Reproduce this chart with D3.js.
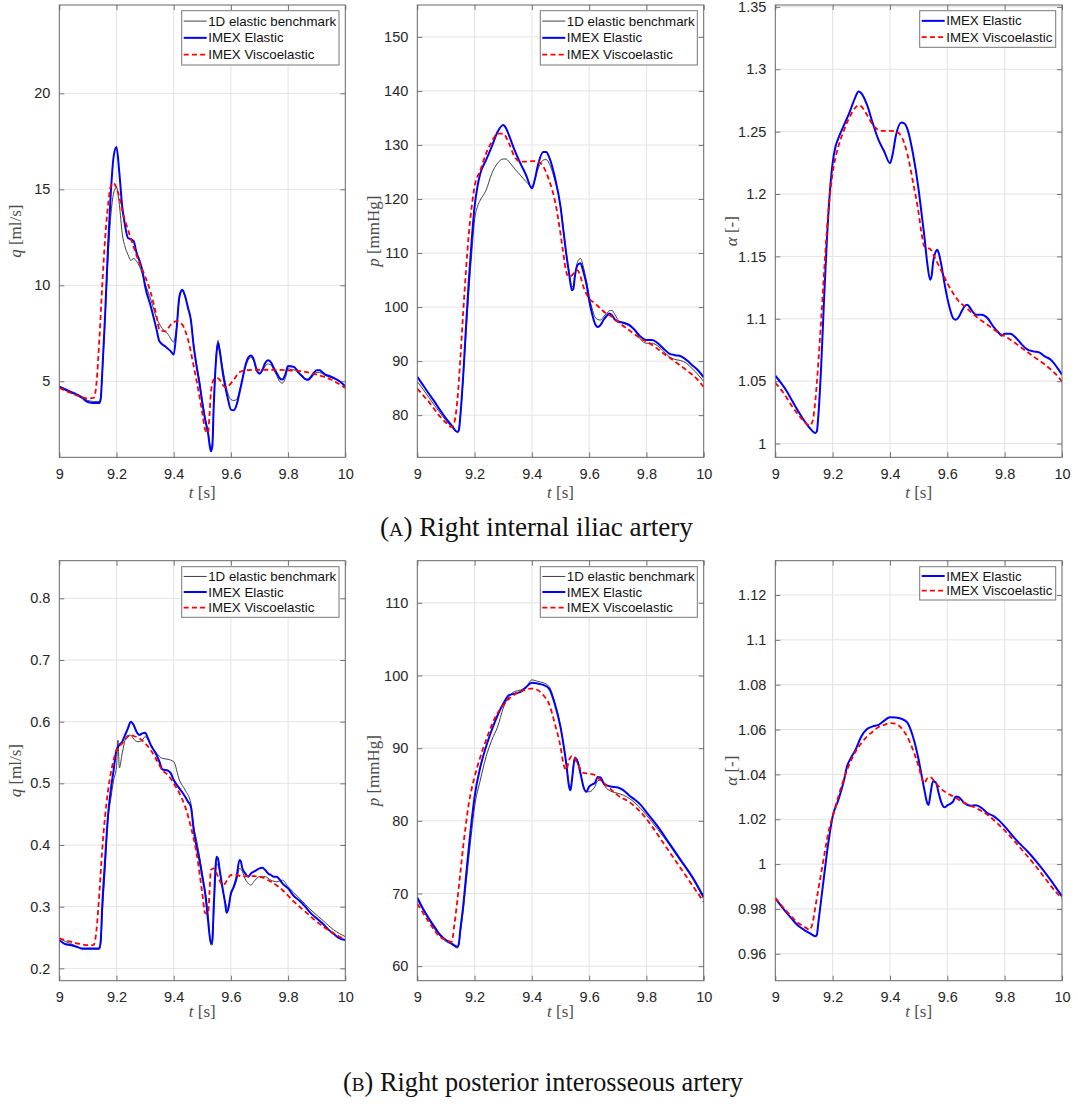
<!DOCTYPE html>
<html><head><meta charset="utf-8">
<script src="https://cdn.jsdelivr.net/npm/d3@7"></script>
<style>
html,body{margin:0;padding:0;background:#fff;}
svg{display:block;}
</style></head>
<body>
<svg id="fig" width="1078" height="1104"></svg>
<script>
// ---------------- DATA ----------------
const xTicks = [9, 9.2, 9.4, 9.6, 9.8, 10];
const xTickLabels = ["9", "9.2", "9.4", "9.6", "9.8", "10"];

const yTicksQA = [5, 10, 15, 20];
const yTicksPA = [80, 90, 100, 110, 120, 130, 140, 150];
const yTicksAA = [1, 1.05, 1.1, 1.15, 1.2, 1.25, 1.3, 1.35];
const yTicksQB = [0.2, 0.3, 0.4, 0.5, 0.6, 0.7, 0.8];
const yTicksPB = [60, 70, 80, 90, 100, 110];
const yTicksAB = [0.96, 0.98, 1, 1.02, 1.04, 1.06, 1.08, 1.1, 1.12];

const seriesNames = ["1D elastic benchmark", "IMEX Elastic", "IMEX Viscoelastic"];

// (A) Right internal iliac artery — flow q [ml/s]
const qA_bench = [[9.00,4.76],[9.02,4.62],[9.04,4.48],[9.06,4.36],[9.08,4.2],[9.10,4.0],[9.12,3.95],[9.14,3.95],[9.145,4.2],[9.15,5.3],[9.16,8.2],[9.17,11.3],[9.18,13.6],[9.19,14.8],[9.20,15.1],[9.21,14.2],[9.22,12.7],[9.23,12.0],[9.24,11.6],[9.25,11.3],[9.26,11.4],[9.27,11.25],[9.28,11.0],[9.29,10.6],[9.30,10.1],[9.32,9.25],[9.34,8.3],[9.36,7.75],[9.38,7.45],[9.40,7.05],[9.41,7.8],[9.42,9.3],[9.43,9.7],[9.44,9.4],[9.45,8.85],[9.46,8.2],[9.47,6.9],[9.48,5.9],[9.49,5.0],[9.50,4.0],[9.51,3.1],[9.52,2.4],[9.53,1.5],[9.535,1.75],[9.54,3.8],[9.55,6.6],[9.555,7.13],[9.56,6.8],[9.57,5.8],[9.58,4.95],[9.59,4.35],[9.60,4.05],[9.61,4.0],[9.62,4.05],[9.63,4.5],[9.64,5.1],[9.65,5.7],[9.66,6.1],[9.67,6.25],[9.68,6.05],[9.69,5.6],[9.70,5.4],[9.71,5.55],[9.72,5.8],[9.73,5.9],[9.74,5.85],[9.75,5.6],[9.76,5.3],[9.77,5.0],[9.78,4.9],[9.79,5.15],[9.80,5.65],[9.81,5.62],[9.82,5.6],[9.83,5.5],[9.84,5.35],[9.85,5.2],[9.86,5.1],[9.87,5.05],[9.88,5.15],[9.89,5.35],[9.90,5.45],[9.91,5.45],[9.92,5.4],[9.93,5.3],[9.94,5.25],[9.96,5.15],[9.98,5.0],[10.0,4.75]];
const qA_elastic = [[9.00,4.70],[9.02,4.57],[9.04,4.43],[9.06,4.31],[9.08,4.13],[9.10,3.92],[9.12,3.87],[9.14,3.87],[9.145,4.1],[9.15,5.4],[9.16,8.4],[9.17,11.9],[9.18,14.8],[9.19,16.7],[9.20,17.2],[9.21,15.85],[9.22,14.1],[9.23,13.1],[9.24,12.47],[9.25,12.4],[9.26,12.3],[9.27,11.7],[9.28,11.3],[9.29,10.8],[9.30,9.95],[9.32,8.9],[9.34,7.7],[9.35,7.08],[9.37,6.82],[9.39,6.56],[9.40,6.39],[9.41,7.7],[9.42,9.43],[9.43,9.77],[9.44,9.43],[9.45,8.82],[9.46,8.2],[9.47,6.8],[9.48,5.78],[9.49,4.91],[9.50,3.87],[9.51,3.0],[9.52,2.3],[9.53,1.35],[9.535,1.6],[9.54,3.7],[9.55,6.5],[9.555,7.0],[9.56,6.65],[9.57,5.6],[9.58,4.74],[9.59,4.05],[9.60,3.52],[9.61,3.49],[9.62,3.78],[9.63,4.4],[9.64,5.09],[9.65,5.78],[9.66,6.22],[9.67,6.34],[9.68,6.13],[9.69,5.6],[9.70,5.4],[9.71,5.6],[9.72,5.95],[9.73,6.09],[9.74,5.99],[9.75,5.69],[9.76,5.43],[9.77,5.17],[9.78,5.09],[9.79,5.35],[9.80,5.8],[9.81,5.78],[9.82,5.75],[9.83,5.6],[9.84,5.4],[9.85,5.26],[9.86,5.12],[9.87,5.09],[9.88,5.23],[9.89,5.43],[9.90,5.57],[9.91,5.57],[9.92,5.47],[9.93,5.35],[9.94,5.3],[9.96,5.17],[9.98,5.0],[10.0,4.74]];
const qA_visco = [[9.00,4.65],[9.04,4.39],[9.08,4.17],[9.10,4.1],[9.12,4.13],[9.13,4.9],[9.14,7.17],[9.15,9.95],[9.16,12.4],[9.17,14.1],[9.18,15.15],[9.19,15.33],[9.20,15.07],[9.21,14.6],[9.22,13.9],[9.24,12.9],[9.26,12.0],[9.28,11.16],[9.30,10.47],[9.32,9.6],[9.34,8.39],[9.35,7.7],[9.37,7.6],[9.39,7.95],[9.41,8.13],[9.43,7.95],[9.45,7.17],[9.47,5.78],[9.49,4.22],[9.50,3.35],[9.51,2.48],[9.52,2.3],[9.525,3.2],[9.53,4.4],[9.54,5.09],[9.55,5.17],[9.56,5.1],[9.57,4.83],[9.58,4.7],[9.59,4.74],[9.61,5.09],[9.63,5.47],[9.65,5.57],[9.70,5.6],[9.75,5.6],[9.80,5.57],[9.85,5.52],[9.90,5.35],[9.95,5.09],[10.0,4.65]];

// (A) pressure p [mmHg]
const pA_bench = [[9.00,86.2],[9.02,84.8],[9.04,83.3],[9.06,81.8],[9.08,80.4],[9.10,79.0],[9.12,77.8],[9.14,76.9],[9.145,77.3],[9.15,79.6],[9.16,86.5],[9.17,95.0],[9.18,103.0],[9.19,109.9],[9.20,116.1],[9.21,118.6],[9.22,119.8],[9.24,121.6],[9.26,124.7],[9.28,126.6],[9.30,127.4],[9.31,127.4],[9.32,126.9],[9.34,125.6],[9.36,124.4],[9.38,123.2],[9.40,122.3],[9.41,123.5],[9.42,125.3],[9.44,127.2],[9.45,127.3],[9.46,126.6],[9.48,123.5],[9.50,118.6],[9.51,114.5],[9.52,110.0],[9.53,106.5],[9.54,103.75],[9.545,104.0],[9.55,105.8],[9.56,108.4],[9.57,109.0],[9.58,107.4],[9.59,105.0],[9.60,102.0],[9.61,99.8],[9.62,98.2],[9.63,97.7],[9.64,97.6],[9.65,98.2],[9.66,98.8],[9.67,99.3],[9.68,99.4],[9.69,98.6],[9.70,97.7],[9.72,97.0],[9.74,96.5],[9.76,95.6],[9.78,94.0],[9.80,93.3],[9.82,93.3],[9.84,92.8],[9.86,91.8],[9.88,90.8],[9.90,90.3],[9.92,90.1],[9.94,89.6],[9.96,88.6],[9.98,87.5],[10.0,86.2]];
const pA_elastic = [[9.00,87.1],[9.02,85.55],[9.04,84.0],[9.06,82.5],[9.08,80.9],[9.10,79.4],[9.12,78.1],[9.14,76.9],[9.145,77.2],[9.15,79.7],[9.16,87.1],[9.17,96.3],[9.18,105.0],[9.19,112.4],[9.20,118.6],[9.21,122.3],[9.22,124.7],[9.24,127.2],[9.26,129.7],[9.28,132.4],[9.30,133.7],[9.31,133.1],[9.32,131.8],[9.34,129.0],[9.36,126.6],[9.38,124.4],[9.40,121.95],[9.41,123.5],[9.42,126.0],[9.44,128.7],[9.45,128.7],[9.46,127.8],[9.48,124.1],[9.50,118.6],[9.51,114.2],[9.52,109.9],[9.53,106.2],[9.54,103.1],[9.545,103.4],[9.55,105.6],[9.56,107.8],[9.57,108.1],[9.58,106.5],[9.59,104.4],[9.60,101.3],[9.61,98.8],[9.62,97.0],[9.63,96.3],[9.64,96.7],[9.65,97.6],[9.66,98.3],[9.67,98.8],[9.68,98.5],[9.69,97.7],[9.70,97.3],[9.72,97.1],[9.74,96.7],[9.76,95.7],[9.78,94.5],[9.80,93.9],[9.82,93.9],[9.84,93.3],[9.86,92.3],[9.88,91.4],[9.90,91.1],[9.92,90.9],[9.94,90.2],[9.96,89.25],[9.98,88.3],[10.0,87.0]];
const pA_visco = [[9.00,84.9],[9.02,83.7],[9.04,82.5],[9.06,81.05],[9.08,79.7],[9.10,78.6],[9.12,77.8],[9.13,78.8],[9.14,82.8],[9.15,90.2],[9.16,98.8],[9.17,106.8],[9.18,113.6],[9.19,118.6],[9.20,122.3],[9.22,125.3],[9.24,128.4],[9.26,130.6],[9.28,132.1],[9.30,132.1],[9.32,130.3],[9.34,127.8],[9.36,126.9],[9.38,126.9],[9.40,127.0],[9.42,127.0],[9.44,126.0],[9.46,123.5],[9.48,119.8],[9.50,113.6],[9.51,109.9],[9.52,106.5],[9.53,105.6],[9.54,105.9],[9.55,106.5],[9.56,106.8],[9.57,105.6],[9.58,103.75],[9.60,101.6],[9.62,100.7],[9.64,99.7],[9.66,98.8],[9.68,98.2],[9.70,97.3],[9.74,95.7],[9.78,94.2],[9.82,93.0],[9.86,91.4],[9.90,89.9],[9.94,88.3],[9.98,86.5],[10.0,85.2]];

// (A) alpha [-]
const aA_elastic = [[9.00,1.0544],[9.02,1.0486],[9.04,1.0419],[9.06,1.0339],[9.08,1.0259],[9.10,1.0187],[9.12,1.0125],[9.14,1.0085],[9.145,1.0099],[9.15,1.0219],[9.16,1.0619],[9.17,1.1153],[9.18,1.1633],[9.19,1.2007],[9.20,1.2247],[9.21,1.2381],[9.22,1.2447],[9.24,1.2554],[9.26,1.2661],[9.28,1.2781],[9.29,1.2821],[9.30,1.2808],[9.32,1.2714],[9.34,1.2567],[9.36,1.2434],[9.38,1.2341],[9.40,1.2247],[9.41,1.2327],[9.42,1.2461],[9.44,1.2573],[9.45,1.2567],[9.46,1.2527],[9.48,1.2327],[9.50,1.2034],[9.51,1.1847],[9.52,1.166],[9.53,1.1446],[9.54,1.1313],[9.545,1.134],[9.55,1.1446],[9.56,1.154],[9.565,1.1553],[9.57,1.1527],[9.58,1.142],[9.59,1.1286],[9.60,1.1166],[9.61,1.1073],[9.62,1.1006],[9.63,1.0993],[9.64,1.1014],[9.65,1.106],[9.66,1.11],[9.67,1.1113],[9.68,1.1086],[9.69,1.1052],[9.70,1.1033],[9.72,1.1033],[9.74,1.1006],[9.76,1.0939],[9.78,1.0886],[9.79,1.0865],[9.80,1.0881],[9.82,1.0881],[9.84,1.0846],[9.86,1.0793],[9.88,1.0753],[9.90,1.0739],[9.92,1.0731],[9.94,1.0699],[9.96,1.0673],[9.98,1.0619],[10.0,1.0552]];
const aA_visco = [[9.00,1.0486],[9.02,1.0432],[9.04,1.0366],[9.06,1.0294],[9.08,1.0232],[9.10,1.0179],[9.12,1.0144],[9.13,1.0179],[9.14,1.0352],[9.15,1.0646],[9.16,1.0993],[9.17,1.1366],[9.18,1.1713],[9.19,1.198],[9.20,1.2167],[9.22,1.2381],[9.24,1.2514],[9.26,1.2621],[9.28,1.2695],[9.29,1.2711],[9.30,1.2701],[9.32,1.2634],[9.34,1.2554],[9.36,1.2514],[9.38,1.2506],[9.40,1.2506],[9.42,1.2501],[9.44,1.2461],[9.46,1.2327],[9.48,1.21],[9.50,1.1847],[9.51,1.1687],[9.52,1.158],[9.53,1.1567],[9.54,1.1559],[9.56,1.1473],[9.58,1.138],[9.60,1.1286],[9.62,1.1206],[9.64,1.114],[9.66,1.11],[9.68,1.106],[9.70,1.1019],[9.74,1.0953],[9.78,1.0886],[9.82,1.0833],[9.86,1.0766],[9.90,1.0699],[9.94,1.0633],[9.98,1.0552],[10.0,1.0499]];

// (B) Right posterior interosseous artery — flow q [ml/s]
const qB_bench = [[9.00,0.2486],[9.02,0.244],[9.04,0.240],[9.06,0.236],[9.08,0.231],[9.10,0.231],[9.12,0.231],[9.14,0.231],[9.145,0.24],[9.15,0.285],[9.16,0.36],[9.17,0.44],[9.18,0.475],[9.19,0.505],[9.20,0.527],[9.205,0.57],[9.21,0.525],[9.22,0.549],[9.23,0.57],[9.24,0.578],[9.25,0.578],[9.26,0.572],[9.27,0.568],[9.28,0.5676],[9.29,0.57],[9.30,0.5757],[9.32,0.562],[9.34,0.549],[9.36,0.5405],[9.38,0.539],[9.40,0.5351],[9.42,0.5054],[9.44,0.489],[9.46,0.4676],[9.47,0.43],[9.48,0.408],[9.50,0.354],[9.52,0.289],[9.53,0.238],[9.535,0.238],[9.54,0.289],[9.55,0.37],[9.56,0.359],[9.57,0.33],[9.58,0.308],[9.59,0.297],[9.60,0.319],[9.61,0.33],[9.62,0.343],[9.63,0.362],[9.64,0.357],[9.65,0.345],[9.66,0.338],[9.67,0.335],[9.68,0.3405],[9.70,0.3486],[9.72,0.3486],[9.74,0.343],[9.76,0.3405],[9.78,0.343],[9.80,0.3324],[9.84,0.3135],[9.88,0.2946],[9.92,0.2784],[9.96,0.2622],[10.0,0.2514]];
const qB_elastic = [[9.00,0.246],[9.02,0.2395],[9.04,0.2378],[9.06,0.235],[9.08,0.2324],[9.10,0.2324],[9.12,0.2324],[9.14,0.2324],[9.145,0.246],[9.15,0.3],[9.16,0.3757],[9.17,0.446],[9.18,0.4892],[9.19,0.5216],[9.20,0.554],[9.21,0.5622],[9.22,0.5676],[9.23,0.5784],[9.24,0.5892],[9.25,0.6],[9.26,0.5946],[9.27,0.5838],[9.28,0.5784],[9.29,0.5811],[9.30,0.5822],[9.31,0.573],[9.32,0.5622],[9.34,0.5459],[9.35,0.5351],[9.36,0.5227],[9.38,0.5205],[9.39,0.5162],[9.40,0.5054],[9.42,0.4919],[9.44,0.4784],[9.45,0.4703],[9.46,0.4622],[9.47,0.4243],[9.48,0.3973],[9.49,0.3757],[9.50,0.3486],[9.51,0.3216],[9.52,0.2784],[9.53,0.2405],[9.535,0.246],[9.54,0.3],[9.55,0.3811],[9.555,0.378],[9.56,0.3622],[9.57,0.3324],[9.58,0.3054],[9.585,0.29],[9.59,0.2946],[9.60,0.3216],[9.61,0.3324],[9.62,0.3486],[9.63,0.3757],[9.635,0.373],[9.64,0.3622],[9.65,0.354],[9.66,0.3486],[9.67,0.354],[9.68,0.3568],[9.69,0.3595],[9.70,0.3622],[9.71,0.3632],[9.72,0.3595],[9.73,0.354],[9.74,0.3514],[9.75,0.3486],[9.76,0.3486],[9.77,0.3443],[9.78,0.3378],[9.79,0.3335],[9.80,0.3297],[9.82,0.3173],[9.84,0.3097],[9.86,0.3],[9.88,0.2892],[9.90,0.2811],[9.92,0.273],[9.94,0.2632],[9.96,0.2557],[9.98,0.2486],[10.0,0.246]];
const qB_visco = [[9.00,0.2486],[9.04,0.2432],[9.08,0.2389],[9.10,0.2378],[9.12,0.2378],[9.13,0.2622],[9.14,0.3216],[9.15,0.3919],[9.16,0.446],[9.17,0.4865],[9.18,0.5162],[9.19,0.5378],[9.20,0.554],[9.22,0.5649],[9.24,0.5757],[9.25,0.5784],[9.26,0.5768],[9.28,0.573],[9.30,0.5649],[9.32,0.554],[9.34,0.5378],[9.36,0.5216],[9.38,0.5135],[9.40,0.5],[9.42,0.4838],[9.44,0.4622],[9.46,0.4297],[9.48,0.3865],[9.50,0.3216],[9.51,0.2892],[9.52,0.2892],[9.525,0.3216],[9.53,0.3595],[9.54,0.3622],[9.55,0.354],[9.56,0.3432],[9.57,0.3351],[9.58,0.3378],[9.59,0.3459],[9.60,0.3514],[9.62,0.3514],[9.64,0.3486],[9.66,0.35],[9.70,0.3486],[9.74,0.3405],[9.78,0.327],[9.82,0.3081],[9.86,0.2919],[9.90,0.2757],[9.94,0.2622],[9.98,0.2514],[10.0,0.246]];

// (B) pressure p [mmHg]
const pB_bench = [[9.00,69.2],[9.04,66.4],[9.08,64.1],[9.10,63.4],[9.12,63.0],[9.14,62.5],[9.145,62.9],[9.15,64.5],[9.16,67.5],[9.17,71.3],[9.18,75.0],[9.19,78.6],[9.20,81.9],[9.22,85.6],[9.24,88.8],[9.26,91.1],[9.28,92.9],[9.30,95.5],[9.32,97.1],[9.34,97.8],[9.36,98.0],[9.38,98.4],[9.40,99.4],[9.42,99.2],[9.44,99.0],[9.46,98.5],[9.48,96.3],[9.50,93.0],[9.51,90.7],[9.52,88.0],[9.53,84.8],[9.535,84.3],[9.54,85.7],[9.55,88.8],[9.56,88.3],[9.57,86.6],[9.58,84.8],[9.59,84.0],[9.60,84.0],[9.62,84.7],[9.63,85.5],[9.64,85.6],[9.66,84.5],[9.68,84.0],[9.70,83.8],[9.74,83.1],[9.78,81.7],[9.80,80.8],[9.84,78.8],[9.88,76.7],[9.92,74.4],[9.96,72.1],[10.0,69.3]];
const pB_elastic = [[9.00,69.45],[9.02,67.9],[9.04,66.6],[9.06,65.4],[9.08,64.3],[9.10,63.6],[9.12,63.1],[9.14,62.66],[9.145,63.1],[9.15,64.95],[9.16,68.2],[9.17,72.3],[9.18,76.4],[9.19,80.1],[9.20,83.3],[9.22,87.4],[9.24,90.2],[9.26,92.5],[9.28,94.5],[9.30,96.1],[9.32,97.3],[9.34,97.5],[9.36,97.75],[9.38,98.4],[9.40,99.0],[9.42,98.9],[9.44,98.7],[9.46,98.2],[9.48,96.1],[9.50,92.9],[9.51,90.6],[9.52,87.9],[9.53,84.7],[9.535,84.2],[9.54,85.6],[9.55,88.6],[9.56,88.1],[9.57,86.5],[9.58,84.7],[9.59,84.0],[9.60,84.7],[9.61,85.0],[9.62,85.2],[9.63,86.05],[9.64,85.96],[9.65,85.2],[9.66,84.9],[9.68,84.7],[9.70,84.6],[9.72,84.2],[9.74,83.5],[9.76,82.9],[9.78,82.2],[9.80,81.2],[9.84,79.2],[9.88,76.9],[9.92,74.6],[9.96,72.3],[10.0,69.5]];
const pB_visco = [[9.00,68.6],[9.04,66.1],[9.08,64.0],[9.10,63.6],[9.12,63.35],[9.13,65.9],[9.14,69.1],[9.15,72.75],[9.16,76.4],[9.17,79.6],[9.18,82.4],[9.19,84.45],[9.20,86.05],[9.22,88.8],[9.24,91.1],[9.26,93.2],[9.28,94.8],[9.30,95.9],[9.32,96.8],[9.34,97.4],[9.36,97.75],[9.38,98.1],[9.40,98.2],[9.42,98.0],[9.44,97.3],[9.46,96.1],[9.48,93.4],[9.50,90.2],[9.51,87.9],[9.52,87.0],[9.53,88.35],[9.54,88.9],[9.55,88.6],[9.56,87.8],[9.57,87.1],[9.58,86.6],[9.60,86.5],[9.62,86.3],[9.64,85.6],[9.66,84.9],[9.68,84.2],[9.70,83.5],[9.74,82.6],[9.78,81.2],[9.82,79.2],[9.86,76.9],[9.90,74.6],[9.94,72.3],[9.98,70.0],[10.0,68.85]];

// (B) alpha [-]
const aB_elastic = [[9.00,0.9848],[9.02,0.9814],[9.04,0.9782],[9.06,0.9752],[9.08,0.9725],[9.10,0.9707],[9.12,0.9692],[9.14,0.9678],[9.145,0.9685],[9.15,0.9737],[9.16,0.9841],[9.17,0.9945],[9.18,1.0049],[9.19,1.0138],[9.20,1.0212],[9.22,1.0287],[9.24,1.0376],[9.25,1.0435],[9.26,1.0465],[9.28,1.051],[9.30,1.0569],[9.32,1.0602],[9.34,1.0614],[9.36,1.0621],[9.38,1.064],[9.40,1.0655],[9.42,1.0654],[9.44,1.0648],[9.46,1.0632],[9.48,1.0569],[9.50,1.0465],[9.51,1.0398],[9.52,1.0331],[9.53,1.0272],[9.535,1.0264],[9.54,1.0302],[9.55,1.0369],[9.56,1.0364],[9.57,1.0316],[9.58,1.0272],[9.59,1.0253],[9.60,1.0262],[9.62,1.0279],[9.63,1.0302],[9.64,1.0299],[9.66,1.0272],[9.68,1.026],[9.70,1.0262],[9.72,1.025],[9.74,1.0227],[9.76,1.0215],[9.78,1.0195],[9.80,1.0168],[9.84,1.0108],[9.88,1.0056],[9.92,0.9997],[9.96,0.993],[10.0,0.9856]];
const aB_visco = [[9.00,0.9848],[9.04,0.9789],[9.08,0.9737],[9.10,0.9722],[9.12,0.9707],[9.13,0.9737],[9.14,0.9811],[9.15,0.9886],[9.16,0.996],[9.17,1.0034],[9.18,1.0108],[9.19,1.0168],[9.20,1.0212],[9.22,1.0302],[9.24,1.0383],[9.26,1.045],[9.28,1.0502],[9.30,1.0539],[9.32,1.0569],[9.34,1.0591],[9.36,1.0611],[9.38,1.0621],[9.40,1.0629],[9.42,1.0626],[9.44,1.0606],[9.46,1.0569],[9.48,1.051],[9.50,1.0435],[9.51,1.0388],[9.52,1.0361],[9.53,1.0383],[9.54,1.0388],[9.56,1.0361],[9.58,1.0334],[9.60,1.0316],[9.62,1.0302],[9.64,1.0287],[9.66,1.0272],[9.70,1.025],[9.74,1.022],[9.78,1.0175],[9.82,1.0123],[9.86,1.0064],[9.90,1.0004],[9.94,0.9938],[9.98,0.9874],[10.0,0.9848]];

// ---------------- LAYOUT ----------------
const svg = d3.select("#fig");
const cols = [[59.3, 345.3], [417.3, 703.7], [775.3, 1062]];
const rows = [[5, 457.3], [560.7, 980.7]];
const styles = {
  bench:   {stroke: "#2b2b2b", width: 0.9, dash: null},
  elastic: {stroke: "#0000ff", width: 2, dash: null},
  visco:   {stroke: "#ff0000", width: 1.8, dash: "5,3.2"}
};
const fmt = v => String(+v.toFixed(4));

const panels = [
  {c:0, r:0, dom:[1.04, 24.6], ticks:yTicksQA, ylab:"q", yunit:"[ml/s]", series:[["bench",qA_bench],["elastic",qA_elastic],["visco",qA_visco]], leg:[181.7,10.7,339,65]},
  {c:1, r:0, dom:[72.2, 155.9], ticks:yTicksPA, ylab:"p", yunit:"[mmHg]", series:[["bench",pA_bench],["elastic",pA_elastic],["visco",pA_visco]], leg:[540.3,10.7,697.3,65]},
  {c:2, r:0, dom:[0.989, 1.3515], ticks:yTicksAA, ylab:"α", yunit:"[-]", series:[["elastic",aA_elastic],["visco",aA_visco]], leg:[919.7,10.7,1055.7,47.3]},
  {c:0, r:1, dom:[0.18, 0.861], ticks:yTicksQB, ylab:"q", yunit:"[ml/s]", series:[["bench",qB_bench],["elastic",qB_elastic],["visco",qB_visco]], leg:[181.7,566.7,339,617.3]},
  {c:1, r:1, dom:[58, 115.8], ticks:yTicksPB, ylab:"p", yunit:"[mmHg]", series:[["bench",pB_bench],["elastic",pB_elastic],["visco",pB_visco]], leg:[540.3,566.7,697.3,617.3]},
  {c:2, r:1, dom:[0.948, 1.1353], ticks:yTicksAB, ylab:"α", yunit:"[-]", series:[["elastic",aB_elastic],["visco",aB_visco]], leg:[919.7,566.7,1055.7,600]}
];
const nameOf = {bench: seriesNames[0], elastic: seriesNames[1], visco: seriesNames[2]};

panels.forEach((P, i) => {
  const [x0, x1] = cols[P.c];
  const [y0, y1] = rows[P.r];
  const x = d3.scaleLinear().domain([9, 10]).range([x0, x1]);
  const y = d3.scaleLinear().domain(P.dom).range([y1, y0]);
  const g = svg.append("g");

  // grid
  g.append("g").selectAll("line").data(xTicks.slice(1, -1)).join("line")
    .attr("x1", d => x(d)).attr("x2", d => x(d)).attr("y1", y0).attr("y2", y1)
    .attr("stroke", "#e3e3e3").attr("stroke-width", 1);
  g.append("g").selectAll("line").data(P.ticks).join("line")
    .attr("x1", x0).attr("x2", x1).attr("y1", d => y(d)).attr("y2", d => y(d))
    .attr("stroke", "#e3e3e3").attr("stroke-width", 1);

  // axes via d3 axis (labels), inward ticks
  const ax = g.append("g").attr("transform", `translate(0,${y1})`)
    .call(d3.axisBottom(x).tickValues(xTicks).tickFormat((d, k) => xTickLabels[k]).tickSize(-5).tickPadding(11));
  const ay = g.append("g").attr("transform", `translate(${x0},0)`)
    .call(d3.axisLeft(y).tickValues(P.ticks).tickFormat(fmt).tickSize(-5).tickPadding(9));
  const axT = g.append("g").attr("transform", `translate(0,${y0})`)
    .call(d3.axisTop(x).tickValues(xTicks).tickFormat("").tickSize(-5));
  const ayR = g.append("g").attr("transform", `translate(${x1},0)`)
    .call(d3.axisRight(y).tickValues(P.ticks).tickFormat("").tickSize(-5));
  [ax, ay, axT, ayR].forEach(a => {
    a.select(".domain").remove();
    a.selectAll(".tick line").attr("stroke", "#555").attr("stroke-width", 0.8);
    a.selectAll(".tick text").attr("fill", "#262626")
      .style("font-family", "'Liberation Sans', Arial, Helvetica, sans-serif").style("font-size", "14.5px");
  });

  // clip
  const cid = "clip" + i;
  svg.append("clipPath").attr("id", cid).append("rect")
    .attr("x", x0).attr("y", y0).attr("width", x1 - x0).attr("height", y1 - y0);

  const line = d3.line().x(d => x(d[0])).y(d => y(d[1])).curve(d3.curveMonotoneX);
  const lg = g.append("g").attr("clip-path", `url(#${cid})`);
  P.series.forEach(([k, data]) => {
    const s = styles[k];
    lg.append("path").datum(data).attr("d", line).attr("fill", "none")
      .attr("stroke", s.stroke).attr("stroke-width", s.width)
      .attr("stroke-dasharray", s.dash).attr("stroke-linejoin", "round");
  });

  // box
  g.append("rect").attr("x", x0).attr("y", y0).attr("width", x1 - x0).attr("height", y1 - y0)
    .attr("fill", "none").attr("stroke", "#666").attr("stroke-width", 1);

  // x label
  const xl = g.append("text").attr("x", (x0 + x1) / 2).attr("y", P.r === 0 ? 497.5 : 1017)
    .attr("text-anchor", "middle").attr("fill", "#4d4d4d")
    .style("font-family", "'Liberation Serif', 'Times New Roman', serif").style("font-size", "17px");
  xl.append("tspan").attr("font-style", "italic").text("t");
  xl.append("tspan").text(" [s]");

  // y label
  const yl = g.append("text")
    .attr("transform", `translate(${x0 - 38},${(y0 + y1) / 2}) rotate(-90)`)
    .attr("text-anchor", "middle").attr("fill", "#4d4d4d")
    .style("font-family", "'Liberation Serif', 'Times New Roman', serif").style("font-size", "17px");
  yl.append("tspan").attr("font-style", "italic").text(P.ylab);
  yl.append("tspan").text(" " + P.yunit);

  // legend
  const [lx0, ly0, lx1, ly1] = P.leg;
  const lgd = g.append("g");
  lgd.append("rect").attr("x", lx0).attr("y", ly0).attr("width", lx1 - lx0).attr("height", ly1 - ly0)
    .attr("fill", "#fff").attr("stroke", "#777").attr("stroke-width", 1);
  const n = P.series.length;
  const step = (ly1 - ly0 - 4) / n;
  P.series.forEach(([k], j) => {
    const s = styles[k];
    const yy = ly0 + 2 + step * (j + 0.5);
    lgd.append("line").attr("x1", lx0 + 2).attr("x2", lx0 + 25).attr("y1", yy).attr("y2", yy)
      .attr("stroke", s.stroke).attr("stroke-width", s.width).attr("stroke-dasharray", s.dash);
    lgd.append("text").attr("x", lx0 + 26.5).attr("y", yy + 4.6).attr("fill", "#111")
      .style("font-family", "'Liberation Sans', Arial, Helvetica, sans-serif").style("font-size", "13.3px")
      .text(nameOf[k]);
  });
});

// captions
function caption(letter, rest, xL, xR, base) {
  const t = svg.append("text").attr("x", (xL + xR) / 2).attr("y", base).attr("text-anchor", "middle")
    .attr("fill", "#111").style("font-family", "'Liberation Serif', 'Times New Roman', serif").style("font-size", "22px");
  t.append("tspan").text("(");
  t.append("tspan").style("font-size", "16px").text(letter);
  t.append("tspan").text(") " + rest);
  const w = t.node().getComputedTextLength();
  const k = (xR - xL) / w;
  t.style("font-size", (22 * k) + "px");
  t.select("tspan:nth-child(2)").style("font-size", (16 * k) + "px");
}
caption("A", "Right internal iliac artery", 380, 693, 535.5);
caption("B", "Right posterior interosseous artery", 343, 743, 1091);
</script>
</body></html>
